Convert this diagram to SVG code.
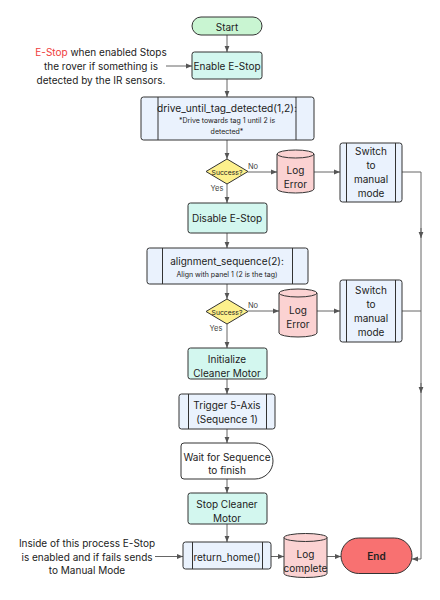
<svg xmlns="http://www.w3.org/2000/svg" width="440" height="600" viewBox="0 0 440 600">
<defs>
<marker id="ah" viewBox="0 0 10 10" refX="10" refY="5" markerWidth="6" markerHeight="6" orient="auto" markerUnits="userSpaceOnUse">
<path d="M0,1 L10,5 L0,9 z" fill="#555"/>
</marker>
<style>
text{font-family:Inter,"Liberation Sans",sans-serif;fill:#222;text-anchor:middle;dominant-baseline:central}
.t{font-size:10px}
.s{font-size:7px}
.d{font-size:6.8px}
.y{font-size:7.5px;fill:#444}
.shape{stroke:#333;stroke-width:1}
.green{fill:#c9f5d2}
.teal{fill:#d3f7ef}
.blue{fill:#eaf2fd}
.pink{fill:#fbd2d2}
.yellow{fill:#fdf08c}
.red{fill:#f87171}
.white{fill:#fff}
.c{fill:none;stroke:#666;stroke-width:1}
</style>
</defs>
<rect width="440" height="600" fill="#fff"/>

<g id="connectors">
<path class="c" d="M227,35 V52" marker-end="url(#ah)"/>
<path class="c" d="M166,66 H192" marker-end="url(#ah)"/>
<path class="c" d="M227,79 V97" marker-end="url(#ah)"/>
<path class="c" d="M227,140 V159" marker-end="url(#ah)"/>
<path class="c" d="M227,184 V203" marker-end="url(#ah)"/>
<path class="c" d="M248,172 H277" marker-end="url(#ah)"/>
<path class="c" d="M314,172 H340" marker-end="url(#ah)"/>
<path class="c" d="M227,233 V248" marker-end="url(#ah)"/>
<path class="c" d="M227,284 V299" marker-end="url(#ah)"/>
<path class="c" d="M248,311 H279" marker-end="url(#ah)"/>
<path class="c" d="M317,311 H340" marker-end="url(#ah)"/>
<path class="c" d="M227,324 V348" marker-end="url(#ah)"/>
<path class="c" d="M227,379 V394" marker-end="url(#ah)"/>
<path class="c" d="M227,429 V443" marker-end="url(#ah)"/>
<path class="c" d="M227,479 V493" marker-end="url(#ah)"/>
<path class="c" d="M227,524 V542" marker-end="url(#ah)"/>
<path class="c" d="M155,556.5 H183" marker-end="url(#ah)"/>
<path class="c" d="M271,556.5 H284" marker-end="url(#ah)"/>
<path class="c" d="M327,556.5 H341" marker-end="url(#ah)"/>
<path class="c" d="M402,172 H421 V559 H412" marker-end="url(#ah)"/>
<path class="c" d="M402,311 H421"/>
<path class="c" d="M421,228 V238" marker-end="url(#ah)"/>
<path class="c" d="M421,383 V393" marker-end="url(#ah)"/>
<text class="y" x="253" y="166">No</text>
<text class="y" x="217" y="188.5">Yes</text>
<text class="y" x="253" y="305.5">No</text>
<text class="y" x="216" y="328.5">Yes</text>
</g>

<g id="note1">
<text class="t" x="101" y="52"><tspan fill="#ef3b3b">E-Stop</tspan> when enabled Stops</text>
<text class="t" x="101" y="66">the rover if something is</text>
<text class="t" x="101" y="80">detected by the IR sensors.</text>
</g>

<g id="start">
<rect class="shape green" x="192" y="17" width="70" height="18" rx="9"/>
<text class="t" x="227" y="26.5">Start</text>
</g>

<g id="enable">
<rect class="shape teal" x="192" y="52" width="70" height="27" rx="2.5"/>
<text class="t" x="227" y="66">Enable E-Stop</text>
</g>

<g id="drive">
<rect class="shape blue" x="141" y="97" width="173" height="43" rx="2.5"/>
<path class="shape" d="M158,97 V140 M296,97 V140" fill="none"/>
<text x="227" y="108" style="font-size:10.2px">drive_until_tag_detected(1,2):</text>
<text class="s" x="227" y="120.5">*Drive towards tag 1 until 2 is</text>
<text class="s" x="227" y="131.5">detected*</text>
</g>

<g id="dec1">
<path class="shape yellow" d="M227,159 L248,171.5 L227,184 L206,171.5 z"/>
<text class="d" x="227" y="172">Success?</text>
</g>

<g id="log1">
<path class="shape pink" d="M277,154 a18.5,4 0 0,1 37,0 v35 a18.5,4 0 0,1 -37,0 z"/>
<path class="shape" fill="none" d="M277,154 a18.5,4 0 0,0 37,0"/>
<text class="t" x="295.5" y="170">Log</text>
<text class="t" x="295.5" y="183.5">Error</text>
</g>

<g id="switch1">
<rect class="shape blue" x="340" y="143" width="62" height="59" rx="2.5"/>
<path class="shape" d="M346.5,143 V202 M395.5,143 V202" fill="none"/>
<text class="t" x="371" y="151">Switch</text>
<text class="t" x="371" y="165">to</text>
<text class="t" x="371" y="179">manual</text>
<text class="t" x="371" y="193">mode</text>
</g>

<g id="disable">
<rect class="shape teal" x="188" y="203" width="79" height="30" rx="2.5"/>
<text class="t" x="227" y="218">Disable E-Stop</text>
</g>

<g id="align">
<rect class="shape blue" x="147" y="248" width="161" height="36" rx="2.5"/>
<path class="shape" d="M162.5,248 V284 M292.5,248 V284" fill="none"/>
<text class="t" x="227" y="260.5">alignment_sequence(2):</text>
<text class="s" x="227" y="274">Align with panel 1 (2 is the tag)</text>
</g>

<g id="dec2">
<path class="shape yellow" d="M227,299 L248,311.5 L227,324 L206,311.5 z"/>
<text class="d" x="227" y="312">Success?</text>
</g>

<g id="log2">
<path class="shape pink" d="M279,293 a19,4 0 0,1 38,0 v40 a19,4 0 0,1 -38,0 z"/>
<path class="shape" fill="none" d="M279,293 a19,4 0 0,0 38,0"/>
<text class="t" x="298" y="309.5">Log</text>
<text class="t" x="298" y="323.5">Error</text>
</g>

<g id="switch2">
<rect class="shape blue" x="340" y="280" width="62" height="62" rx="2.5"/>
<path class="shape" d="M346.5,280 V342 M395.5,280 V342" fill="none"/>
<text class="t" x="371" y="290">Switch</text>
<text class="t" x="371" y="304">to</text>
<text class="t" x="371" y="318">manual</text>
<text class="t" x="371" y="332">mode</text>
</g>

<g id="init">
<rect class="shape teal" x="188" y="348" width="79" height="31" rx="2.5"/>
<text class="t" x="227" y="358.5">Initialize</text>
<text class="t" x="227" y="372.5">Cleaner Motor</text>
</g>

<g id="trigger">
<rect class="shape blue" x="179" y="394" width="96" height="35" rx="2.5"/>
<path class="shape" d="M188.5,394 V429 M266.5,394 V429" fill="none"/>
<text class="t" x="227" y="405">Trigger 5-Axis</text>
<text class="t" x="227" y="419">(Sequence 1)</text>
</g>

<g id="wait">
<path class="shape white" d="M184,443 H255 A18,18 0 0,1 255,479 H184 Q181,479 181,476 V446 Q181,443 184,443 z"/>
<text class="t" x="227" y="456.5">Wait for Sequence</text>
<text class="t" x="227" y="470">to finish</text>
</g>

<g id="stop">
<rect class="shape teal" x="188" y="493" width="79" height="31" rx="2.5"/>
<text class="t" x="227" y="504">Stop Cleaner</text>
<text class="t" x="227" y="518">Motor</text>
</g>

<g id="note2">
<text class="t" x="87" y="542.5">Inside of this process E-Stop</text>
<text class="t" x="87" y="556.5">is enabled and if fails sends</text>
<text class="t" x="87" y="570">to Manual Mode</text>
</g>

<g id="returnhome">
<rect class="shape blue" x="183" y="542" width="88" height="27" rx="2.5"/>
<path class="shape" d="M192.5,542 V569 M262.5,542 V569" fill="none"/>
<text class="t" x="227" y="556.5">return_home()</text>
</g>

<g id="logcomplete">
<path class="shape pink" d="M284,537.5 a21.5,4 0 0,1 43,0 v36 a21.5,4 0 0,1 -43,0 z"/>
<path class="shape" fill="none" d="M284,537.5 a21.5,4 0 0,0 43,0"/>
<text class="t" x="305.5" y="553.5">Log</text>
<text class="t" x="305.5" y="567.5">complete</text>
</g>

<g id="end">
<rect class="shape red" x="341" y="538" width="71" height="35.5" rx="17.75"/>
<text class="t" x="376.5" y="556" style="font-weight:600">End</text>
</g>
</svg>
